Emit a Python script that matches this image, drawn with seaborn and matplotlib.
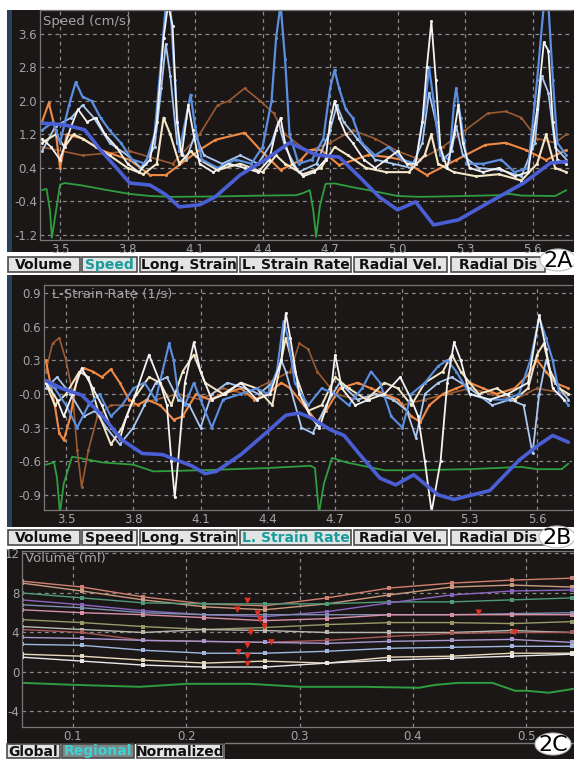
import matplotlib
matplotlib.use("Agg")
import matplotlib.pyplot as plt
from matplotlib.patches import Rectangle, Ellipse
import seaborn as sns

# ---------------- panel A : speed (cm/s) ----------------
a_xticks = [3.5, 3.8, 4.1, 4.4, 4.7, 5.0, 5.3, 5.6]
a_yticks = [-1.2, -0.4, 0.4, 1.2, 2.0, 2.8, 3.6]

a_ecg_t = [3.42, 3.44, 3.455, 3.464, 3.48, 3.50, 3.52, 3.60, 3.70, 3.81, 3.90, 4.00, 4.20, 4.40,
           4.55, 4.58, 4.61, 4.625, 4.638, 4.655, 4.68, 4.72, 4.80, 4.90, 5.00, 5.10, 5.30, 5.45,
           5.50, 5.55, 5.70, 5.75]
a_ecg_v = [-0.13, -0.10, -0.60, -1.27, -0.70, 0.00, 0.04, -0.02, -0.12, -0.22, -0.27, -0.29, -0.28,
           -0.26, -0.25, -0.20, -0.13, -0.60, -1.25, -0.50, 0.02, 0.03, -0.06, -0.16, -0.27, -0.29,
           -0.27, -0.25, -0.22, -0.26, -0.27, -0.13]

a_blue_t = [3.42, 3.52, 3.61, 3.68, 3.81, 3.90, 3.97, 4.03, 4.12, 4.19, 4.30, 4.41, 4.52, 4.64,
            4.74, 4.83, 4.92, 5.00, 5.08, 5.16, 5.27, 5.41, 5.56, 5.68, 5.75]
a_blue_v = [1.47, 1.43, 1.31, 0.83, 0.04, -0.01, -0.24, -0.53, -0.48, -0.29, 0.23, 0.59, 1.00, 0.71,
            0.66, 0.19, -0.30, -0.60, -0.41, -0.96, -0.84, -0.41, 0.04, 0.52, 0.55]

a_orange_t = [3.42, 3.45, 3.48, 3.50, 3.53, 3.60, 3.68, 3.81, 3.90, 3.97, 4.12, 4.19, 4.32, 4.39,
              4.48, 4.57, 4.61, 4.66, 4.74, 4.87, 4.96, 5.02, 5.13, 5.26, 5.39, 5.48, 5.57, 5.66, 5.75]
a_orange_v = [1.50, 1.95, 1.30, 0.40, 1.20, 1.10, 0.83, 0.59, 0.23, 0.23, 0.83, 1.07, 1.24, 0.83,
              0.35, 0.59, 0.83, 0.83, 0.47, 0.71, 0.66, 0.59, 0.23, 0.59, 0.95, 1.00, 0.83, 0.59, 0.83]

a_brown_t = [3.42, 3.60, 3.81, 4.00, 4.12, 4.20, 4.25, 4.32, 4.39, 4.45, 4.50, 4.60, 4.70, 4.80,
             4.90, 5.00, 5.10, 5.20, 5.30, 5.40, 5.48, 5.55, 5.62, 5.70, 5.75]
a_brown_v = [0.90, 0.70, 0.80, 0.50, 1.20, 1.90, 2.00, 2.30, 2.00, 1.70, 1.20, 0.80, 1.00, 1.30,
             1.10, 0.80, 0.60, 0.90, 1.30, 1.70, 1.75, 1.60, 1.10, 1.00, 1.20]

a_white_t = [3.42, 3.46, 3.50, 3.55, 3.58, 3.62, 3.66, 3.70, 3.75, 3.80, 3.85, 3.90, 3.93, 3.96,
             3.98, 4.00, 4.02, 4.04, 4.07, 4.09, 4.12, 4.18, 4.25, 4.32, 4.38, 4.43, 4.46, 4.48,
             4.50, 4.53, 4.58, 4.63, 4.68, 4.70, 4.72, 4.74, 4.77, 4.80, 4.85, 4.90, 4.95, 5.00,
             5.04, 5.08, 5.11, 5.13, 5.15, 5.17, 5.19, 5.22, 5.25, 5.27, 5.29, 5.32, 5.38, 5.45,
             5.52, 5.58, 5.62, 5.65, 5.67, 5.69, 5.71, 5.75]
a_white_v = [1.10, 0.90, 0.60, 1.40, 1.80, 1.50, 1.60, 1.20, 0.90, 0.50, 0.30, 0.60, 1.50, 3.50,
             4.30, 3.80, 1.50, 0.70, 1.90, 1.30, 0.50, 0.30, 0.50, 0.40, 0.30, 0.60, 1.30, 1.60,
             1.00, 0.50, 0.20, 0.30, 0.60, 1.50, 2.00, 1.60, 1.20, 1.00, 0.60, 0.40, 0.60, 0.80,
             0.50, 0.50, 1.50, 2.80, 3.90, 2.50, 0.90, 0.40, 1.20, 1.90, 1.00, 0.40, 0.30, 0.40,
             0.20, 0.30, 1.80, 3.40, 3.20, 1.50, 0.60, 0.50]

a_mblue_t = [3.42, 3.47, 3.50, 3.54, 3.57, 3.60, 3.64, 3.68, 3.72, 3.77, 3.82, 3.88, 3.92, 3.95,
             3.97, 3.99, 4.01, 4.03, 4.06, 4.08, 4.10, 4.13, 4.20, 4.28, 4.35, 4.40, 4.44, 4.46,
             4.48, 4.50, 4.52, 4.56, 4.62, 4.67, 4.70, 4.72, 4.74, 4.77, 4.80, 4.84, 4.90, 4.96,
             5.02, 5.08, 5.12, 5.14, 5.16, 5.19, 5.23, 5.25, 5.26, 5.28, 5.31, 5.38, 5.46, 5.52,
             5.58, 5.62, 5.65, 5.67, 5.69, 5.71, 5.75]
a_mblue_v = [1.30, 1.50, 1.00, 1.90, 2.45, 2.10, 2.00, 1.60, 1.30, 1.00, 0.60, 0.50, 1.20, 3.00,
             4.30, 4.30, 2.50, 0.80, 1.60, 2.15, 1.40, 0.60, 0.40, 0.60, 0.50, 0.90, 2.00, 3.50,
             4.30, 3.00, 1.20, 0.50, 0.60, 1.10, 2.30, 2.74, 2.30, 1.80, 1.60, 1.00, 0.70, 0.90,
             0.60, 0.50, 1.80, 2.80, 2.00, 0.70, 0.60, 1.90, 2.30, 1.60, 0.50, 0.50, 0.60, 0.30,
             0.40, 2.50, 4.30, 4.30, 2.50, 1.00, 0.70]

a_cream_t = [3.42, 3.48, 3.52, 3.56, 3.60, 3.66, 3.72, 3.80, 3.87, 3.93, 3.96, 3.99, 4.03, 4.08,
             4.12, 4.20, 4.30, 4.40, 4.46, 4.50, 4.58, 4.66, 4.72, 4.78, 4.86, 4.95, 5.05, 5.12,
             5.15, 5.18, 5.25, 5.35, 5.45, 5.55, 5.62, 5.66, 5.70, 5.75]
a_cream_v = [1.00, 1.20, 0.90, 1.20, 1.10, 0.90, 0.70, 0.40, 0.25, 0.50, 1.60, 1.20, 0.50, 0.80,
             0.60, 0.35, 0.50, 0.30, 0.70, 0.50, 0.25, 0.40, 0.90, 0.70, 0.40, 0.30, 0.30, 0.70,
             1.20, 0.50, 0.30, 0.20, 0.25, 0.10, 0.50, 1.20, 0.40, 0.30]

a_lblue_t = [3.42, 3.48, 3.55, 3.60, 3.65, 3.72, 3.80, 3.86, 3.92, 3.95, 3.97, 3.99, 4.02, 4.06,
             4.10, 4.14, 4.22, 4.30, 4.38, 4.44, 4.47, 4.50, 4.56, 4.64, 4.70, 4.73, 4.76, 4.82,
             4.90, 4.98, 5.06, 5.11, 5.14, 5.17, 5.20, 5.24, 5.26, 5.29, 5.36, 5.46, 5.55, 5.61,
             5.64, 5.67, 5.70, 5.75]
a_lblue_v = [0.80, 1.40, 1.60, 1.90, 1.60, 1.00, 0.70, 0.40, 0.90, 2.30, 3.36, 2.60, 1.00, 0.60,
             1.20, 0.70, 0.50, 0.70, 0.50, 1.00, 1.50, 0.90, 0.30, 0.50, 1.30, 1.90, 1.50, 1.10,
             0.60, 0.50, 0.40, 1.00, 2.20, 1.50, 0.60, 0.80, 1.40, 0.70, 0.40, 0.35, 0.20, 1.00,
             2.60, 2.20, 0.90, 0.60]

# ---------------- panel B : longitudinal strain rate (1/s) ----------------
b_yticks = [-0.9, -0.6, -0.3, 0.0, 0.3, 0.6, 0.9]
b_ylabels = ["-0.9", "-0.6", "-0.3", "-0.0", "0.3", "0.6", "0.9"]

b_ecg_t = [3.41, 3.447, 3.46, 3.473, 3.49, 3.527, 3.56, 3.66, 3.80, 3.89, 4.10, 4.40, 4.59, 4.61,
           4.628, 4.65, 4.686, 4.75, 4.92, 5.06, 5.30, 5.53, 5.60, 5.71, 5.74]
b_ecg_v = [-0.63, -0.61, -0.75, -1.06, -0.80, -0.56, -0.57, -0.61, -0.63, -0.69, -0.68, -0.66, -0.64,
           -0.66, -1.06, -0.80, -0.57, -0.61, -0.68, -0.68, -0.67, -0.65, -0.67, -0.67, -0.62]

b_blue_t = [3.41, 3.48, 3.57, 3.66, 3.75, 3.84, 3.93, 4.06, 4.12, 4.17, 4.28, 4.39, 4.48, 4.54,
            4.59, 4.68, 4.74, 4.81, 4.90, 4.97, 5.05, 5.16, 5.23, 5.39, 5.52, 5.61, 5.67, 5.74]
b_blue_v = [0.12, 0.05, -0.01, -0.19, -0.41, -0.53, -0.54, -0.64, -0.71, -0.69, -0.54, -0.35, -0.19,
            -0.17, -0.21, -0.32, -0.37, -0.54, -0.75, -0.81, -0.72, -0.90, -0.94, -0.86, -0.59,
            -0.45, -0.37, -0.43]

b_white_t = [3.41, 3.46, 3.49, 3.53, 3.57, 3.62, 3.66, 3.70, 3.74, 3.77, 3.81, 3.87, 3.92, 3.95,
             3.97, 3.985, 4.00, 4.03, 4.07, 4.10, 4.15, 4.21, 4.28, 4.35, 4.41, 4.46, 4.48, 4.50,
             4.54, 4.59, 4.63, 4.68, 4.70, 4.73, 4.79, 4.85, 4.92, 4.99, 5.04, 5.07, 5.10, 5.13,
             5.17, 5.20, 5.23, 5.26, 5.30, 5.39, 5.47, 5.56, 5.61, 5.64, 5.67, 5.72]
b_white_v = [0.10, -0.05, -0.20, 0.00, 0.23, 0.05, -0.10, -0.30, -0.40, -0.20, 0.00, 0.35, 0.10,
             -0.10, -0.60, -0.92, -0.60, 0.10, 0.46, 0.20, -0.05, 0.00, 0.10, -0.05, 0.00, 0.30,
             0.72, 0.50, 0.00, -0.20, -0.30, 0.00, 0.35, 0.05, -0.10, -0.05, 0.00, 0.15, -0.05,
             -0.20, -0.60, -1.05, -0.60, 0.10, 0.46, 0.30, 0.00, -0.05, 0.00, 0.10, 0.70, 0.40,
             0.05, -0.05]

b_mblue_t = [3.41, 3.45, 3.50, 3.55, 3.60, 3.65, 3.70, 3.75, 3.80, 3.85, 3.90, 3.93, 3.96, 3.98,
             4.00, 4.03, 4.07, 4.10, 4.15, 4.20, 4.28, 4.35, 4.40, 4.44, 4.47, 4.49, 4.52, 4.58,
             4.64, 4.70, 4.76, 4.82, 4.86, 4.90, 4.95, 5.00, 5.04, 5.10, 5.16, 5.20, 5.24, 5.30,
             5.38, 5.46, 5.52, 5.57, 5.61, 5.64, 5.67, 5.70, 5.74]
b_mblue_v = [0.10, 0.05, -0.10, -0.30, -0.10, 0.00, -0.20, -0.10, 0.05, 0.10, -0.05, 0.20, 0.45,
             0.30, 0.00, -0.10, 0.10, -0.05, -0.30, -0.05, 0.00, 0.05, 0.00, 0.20, 0.65, 0.50,
             0.10, -0.10, 0.05, 0.00, -0.10, 0.05, 0.20, 0.10, -0.20, -0.30, 0.00, 0.10, 0.25,
             0.30, 0.20, 0.00, -0.05, -0.05, 0.00, 0.30, 0.68, 0.50, 0.30, 0.00, -0.10]

b_lblue_t = [3.41, 3.46, 3.52, 3.58, 3.63, 3.68, 3.74, 3.80, 3.85, 3.90, 3.95, 4.00, 4.05, 4.10,
             4.15, 4.22, 4.30, 4.36, 4.42, 4.46, 4.48, 4.55, 4.60, 4.66, 4.72, 4.80, 4.88, 4.96,
             5.02, 5.06, 5.10, 5.16, 5.22, 5.30, 5.40, 5.48, 5.54, 5.58, 5.61, 5.64, 5.68, 5.74]
b_lblue_v = [0.05, 0.15, 0.00, -0.20, -0.15, -0.30, -0.45, -0.30, -0.10, 0.10, 0.15, -0.05, -0.10,
             -0.30, 0.00, 0.10, 0.05, 0.00, 0.10, 0.30, 0.20, -0.30, -0.35, -0.10, 0.10, -0.05,
             0.00, -0.05, -0.15, -0.39, 0.00, 0.10, 0.15, 0.05, -0.10, -0.05, -0.10, -0.53, 0.00,
             0.30, 0.10, -0.05]

b_cream_t = [3.41, 3.45, 3.50, 3.56, 3.60, 3.65, 3.70, 3.75, 3.80, 3.87, 3.92, 3.97, 4.02, 4.07,
             4.12, 4.20, 4.28, 4.35, 4.42, 4.48, 4.52, 4.58, 4.64, 4.70, 4.76, 4.84, 4.92, 4.98,
             5.04, 5.10, 5.18, 5.22, 5.26, 5.34, 5.42, 5.50, 5.56, 5.60, 5.63, 5.66, 5.70, 5.74]
b_cream_v = [0.10, -0.10, 0.00, 0.20, 0.15, -0.20, -0.45, -0.30, -0.05, 0.15, 0.10, -0.10, 0.20,
             0.35, 0.10, 0.00, 0.10, 0.05, -0.10, 0.50, 0.20, -0.15, -0.10, 0.15, 0.05, -0.05,
             0.10, 0.05, -0.10, 0.10, 0.20, 0.35, 0.20, 0.00, 0.05, -0.05, 0.05, 0.35, 0.45, 0.20,
             0.05, 0.00]

b_orange_t = [3.41, 3.45, 3.47, 3.49, 3.52, 3.55, 3.58, 3.62, 3.66, 3.70, 3.74, 3.78, 3.82, 3.86,
              3.92, 3.98, 4.02, 4.08, 4.14, 4.20, 4.28, 4.34, 4.40, 4.46, 4.50, 4.56, 4.62, 4.66,
              4.72, 4.80, 4.86, 4.92, 4.98, 5.04, 5.08, 5.12, 5.18, 5.24, 5.30, 5.36, 5.42, 5.50,
              5.56, 5.60, 5.64, 5.68, 5.74]
b_orange_v = [0.30, -0.10, -0.35, -0.41, -0.20, 0.15, 0.23, 0.20, 0.15, 0.22, 0.10, -0.05, -0.10,
              -0.05, -0.10, -0.23, -0.20, 0.00, -0.05, 0.00, 0.05, -0.05, 0.00, 0.10, 0.05, -0.10,
              -0.25, -0.15, 0.05, 0.10, 0.05, 0.00, -0.05, -0.20, -0.25, -0.10, 0.00, 0.05, 0.10,
              0.05, 0.00, 0.05, 0.17, 0.30, 0.20, 0.10, 0.05]

b_brown_t = [3.41, 3.44, 3.47, 3.50, 3.53, 3.55, 3.57, 3.60, 3.64, 3.70, 3.80, 3.90, 4.00, 4.10,
             4.20, 4.30, 4.40, 4.50, 4.54, 4.58, 4.62, 4.70, 4.80, 4.90, 5.00, 5.10, 5.20, 5.30,
             5.40, 5.50, 5.60, 5.74]
b_brown_v = [0.20, 0.45, 0.50, 0.30, 0.00, -0.50, -0.83, -0.50, -0.20, -0.10, -0.10, -0.05, 0.00,
             -0.05, 0.05, 0.00, 0.10, 0.20, 0.45, 0.40, 0.20, 0.00, -0.05, 0.00, -0.10, -0.05,
             0.00, 0.05, 0.00, -0.05, 0.05, 0.00]

# ---------------- panel C : regional volume (ml) ----------------
c_xticks = [0.1, 0.2, 0.3, 0.4, 0.5]
c_yticks = [-4, 0, 4, 8, 12]
c_t = [0.055, 0.108, 0.162, 0.216, 0.269, 0.324, 0.379, 0.434, 0.487, 0.540]
c_volumes = {
    "#d08070": [9.2, 8.6, 7.6, 6.9, 6.7, 7.5, 8.5, 9.0, 9.3, 9.5],
    "#c89a80": [9.0, 8.2, 7.3, 6.6, 6.3, 6.9, 7.8, 8.6, 8.8, 8.6],
    "#4f9a7a": [8.0, 7.5, 7.0, 6.9, 6.9, 6.9, 7.1, 7.1, 7.3, 7.5],
    "#8a66c0": [7.3, 6.8, 6.2, 5.8, 5.6, 6.1, 7.0, 7.8, 8.2, 8.3],
    "#7f8fb0": [6.8, 6.5, 6.0, 5.8, 5.8, 5.8, 5.8, 5.8, 5.9, 6.0],
    "#d890a8": [6.3, 6.0, 5.8, 5.5, 5.2, 5.4, 5.8, 5.8, 5.8, 5.8],
    "#9a9a68": [5.3, 5.0, 4.6, 4.3, 4.5, 4.8, 5.0, 5.0, 4.9, 5.1],
    "#b8b8b0": [4.6, 4.3, 4.0, 4.3, 4.2, 4.0, 4.0, 4.0, 4.2, 4.0],
    "#a85a5a": [4.3, 4.0, 3.2, 3.1, 3.0, 3.2, 3.6, 3.9, 4.0, 4.0],
    "#a898d0": [3.5, 3.4, 3.2, 3.1, 3.0, 2.9, 3.1, 3.2, 3.3, 3.0],
    "#a0b8e0": [2.8, 2.7, 2.2, 1.9, 1.9, 2.1, 2.4, 2.5, 2.6, 2.6],
    "#e6d8b8": [1.8, 1.6, 1.2, 0.9, 1.1, 0.9, 1.5, 1.6, 1.9, 1.9],
    "#e8e8e8": [1.5, 1.1, 0.7, 0.5, 0.5, 0.9, 1.2, 1.4, 1.6, 1.8],
}
c_ecg_t = [0.055, 0.10, 0.159, 0.20, 0.256, 0.30, 0.357, 0.405, 0.42, 0.44, 0.47, 0.49, 0.50, 0.52, 0.542]
c_ecg_v = [-1.1, -1.3, -1.5, -1.2, -1.2, -1.5, -1.5, -1.6, -1.3, -1.1, -1.1, -1.9, -1.9, -2.1, -1.7]
c_mark_t = [0.254, 0.245, 0.263, 0.265, 0.269, 0.257, 0.254, 0.246, 0.254, 0.254, 0.275, 0.458, 0.490]
c_mark_v = [7.2, 6.3, 5.9, 5.3, 4.6, 4.0, 2.7, 2.0, 1.6, 0.8, 3.0, 6.0, 4.0]

tabs_top = ["Volume", "Speed", "Long. Strain", "L. Strain Rate", "Radial Vel.", "Radial Dis"]
tabs_bottom = ["Global", "Regional", "Normalized"]

# ---------------- drawing ----------------
sns.set_style("dark")
plt.rcParams["font.family"] = ["DejaVu Sans"]

DARK = "#1c1717"
GRID = "#8a8a8a"
TXT = "#a4a4a4"
W, H = 574, 759

fig = plt.figure(figsize=(W / 100, H / 100), dpi=100, facecolor="white")


def px_axes(x0, y0, x1, y1, z):
    return fig.add_axes([x0 / W, 1 - y1 / H, (x1 - x0) / W, (y1 - y0) / H], zorder=z)


bg = px_axes(0, 0, W, H, 0)
bg.set_xlim(0, W)
bg.set_ylim(H, 0)
bg.axis("off")
for y0, y1 in [(10, 252), (275, 527), (549, 744)]:
    bg.add_patch(Rectangle((7, y0), W - 7, y1 - y0, fc=DARK, ec="none"))
for y0, y1 in [(10, 252), (275, 527)]:
    bg.add_patch(Rectangle((7, y0), 5, y1 - y0, fc="#2a4058", ec="none"))
bg.add_patch(Rectangle((225, 743), W - 225, 16, fc=DARK, ec="none"))
bg.plot([225, W], [743, 743], color="#7a7a7a", lw=1)


def buttons(y0, y1, spans, labels, selected, sel_face="#dfe4e4", sel_text="#1a9c9c"):
    for (x0, x1), lab in zip(spans, labels):
        sel = lab == selected
        bg.add_patch(Rectangle((x0, y0), x1 - x0, y1 - y0, fc=sel_face if sel else "#e4e4e4",
                               ec="#4a4a4a", lw=1.2))
        bg.text((x0 + x1) / 2, (y0 + y1) / 2 + 0.5, lab, ha="center", va="center",
                fontsize=10, fontweight="bold", color=sel_text if sel else "#111111")


top_spans = [(8, 80), (82, 137), (140, 237), (240, 351), (354, 447), (451, 545)]
buttons(257, 272, top_spans, tabs_top, "Speed")
buttons(530, 545, top_spans, tabs_top, "L. Strain Rate")
buttons(744, 758, [(7, 60), (62, 134), (137, 224)], tabs_bottom, "Regional",
        sel_face="#7d8787", sel_text="#3fd0d0")


def style(ax, xlim, ylim, xt, xl, yt, yl, title, tx, ty):
    ax.set_facecolor(DARK)
    ax.set_xlim(*xlim)
    ax.set_ylim(*ylim)
    ax.set_xticks(xt)
    ax.set_xticklabels(xl)
    ax.set_yticks(yt)
    ax.set_yticklabels(yl)
    ax.tick_params(length=0, pad=2, labelsize=8.5, colors=TXT)
    ax.grid(True, color=GRID, linestyle=(0, (3, 3)), linewidth=0.9)
    ax.set_axisbelow(True)
    for s in ax.spines.values():
        s.set_color("#777777")
        s.set_linewidth(0.9)
    ax.spines["right"].set_visible(False)
    ax.set_xlabel("")
    ax.set_ylabel("")
    ax.text(tx, ty, title, transform=ax.transAxes, fontsize=9.5, color=TXT, va="center", ha="left")


def line(ax, t, v, color, lw=1.2, dots=False, **kw):
    if dots:
        kw.update(marker="o", markersize=2.2, markeredgewidth=0)
    sns.lineplot(x=t, y=v, ax=ax, color=color, linewidth=lw, estimator=None, sort=False, **kw)


# panel A
axA = px_axes(40, 10, 572, 240, 2)
line(axA, a_ecg_t, a_ecg_v, "#2e9e3e", 1.3)
line(axA, a_brown_t, a_brown_v, "#9a5a32", 1.2, True)
line(axA, a_orange_t, a_orange_v, "#f08a45", 1.5, True)
line(axA, a_lblue_t, a_lblue_v, "#a9c8f2", 1.3, True)
line(axA, a_cream_t, a_cream_v, "#f3e7c8", 1.5, True)
line(axA, a_mblue_t, a_mblue_v, "#5b8fe0", 1.6, True)
line(axA, a_white_t, a_white_v, "#f4f4f4", 1.3, True)
line(axA, a_blue_t, a_blue_v, "#4a5fd6", 2.6)
style(axA, (3.411, 5.775), (-1.32, 4.17), a_xticks, [f"{x:.1f}" for x in a_xticks],
      a_yticks, [f"{y:.1f}" for y in a_yticks], "Speed (cm/s)", 0.006, 0.948)

# panel B
axB = px_axes(44, 285, 572, 510, 2)
line(axB, b_ecg_t, b_ecg_v, "#2e9e3e", 1.3)
line(axB, b_brown_t, b_brown_v, "#9a5a32", 1.2, True)
line(axB, b_orange_t, b_orange_v, "#f08a45", 1.5, True)
line(axB, b_lblue_t, b_lblue_v, "#a9c8f2", 1.3, True)
line(axB, b_cream_t, b_cream_v, "#f3e7c8", 1.4, True)
line(axB, b_mblue_t, b_mblue_v, "#5b8fe0", 1.5, True)
line(axB, b_white_t, b_white_v, "#f4f4f4", 1.3, True)
line(axB, b_blue_t, b_blue_v, "#4a5fd6", 2.6)
style(axB, (3.402, 5.756), (-1.034, 0.971), a_xticks, [f"{x:.1f}" for x in a_xticks],
      b_yticks, b_ylabels, "L-Strain Rate (1/s)", 0.015, 0.96)

# panel C
axC = px_axes(22, 551, 574, 727, 2)
line(axC, c_ecg_t, c_ecg_v, "#2e9e3e", 1.4)
for col, vals in c_volumes.items():
    line(axC, c_t, vals, col, 1.0, marker="s", markersize=3, markeredgewidth=0)
sns.scatterplot(x=c_mark_t, y=c_mark_v, ax=axC, marker="v", s=22, color="#e03222", edgecolor="none", zorder=5)
style(axC, (0.055, 0.542), (-5.57, 12.25), c_xticks, [f"{x:.1f}" for x in c_xticks],
      c_yticks, [str(y) for y in c_yticks], "Volume (ml)", 0.005, 0.96)

# panel badges
ov = px_axes(0, 0, W, H, 10)
ov.set_xlim(0, W)
ov.set_ylim(H, 0)
ov.axis("off")
for (cx, cy), lab in zip([(558, 260), (557, 537), (553, 744)], ["2A", "2B", "2C"]):
    ov.add_patch(Ellipse((cx, cy), 36, 22, fc="white", ec="#bbbbbb", lw=0.8))
    ov.text(cx, cy + 1, lab, ha="center", va="center", fontsize=16, color="black")

fig.savefig("out.png", dpi=100, facecolor="white")
